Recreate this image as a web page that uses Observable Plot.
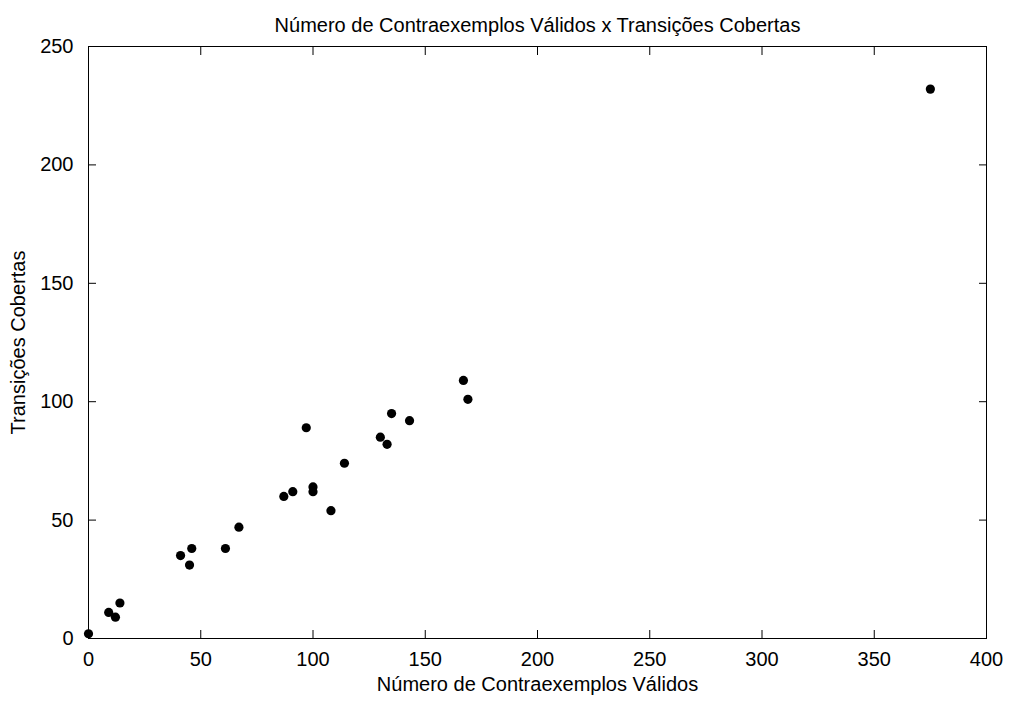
<!DOCTYPE html>
<html>
<head>
<meta charset="utf-8">
<script src="https://cdn.jsdelivr.net/npm/d3@7"></script>
<script src="https://cdn.jsdelivr.net/npm/@observablehq/plot@0.6"></script>
<style>
  html, body { margin: 0; padding: 0; background: #fff; }
</style>
</head>
<body>
<div id="chart"></div>
<script>
const titleText = "Número de Contraexemplos Válidos x Transições Cobertas";
const xLabel = "Número de Contraexemplos Válidos";
const yLabel = "Transições Cobertas";

const contraexemplos = [0, 9, 12, 14, 41, 46, 45, 61, 67, 87, 91, 100, 100, 97, 108, 114, 130, 133, 135, 143, 167, 169, 375];
const transicoes    = [2, 11, 9, 15, 35, 38, 31, 38, 47, 60, 62, 64, 62, 89, 54, 74, 85, 82, 95, 92, 109, 101, 232];

const xTicks = [0, 50, 100, 150, 200, 250, 300, 350, 400];
const yTicks = [0, 50, 100, 150, 200, 250];

const data = contraexemplos.map((x, i) => ({x, y: transicoes[i]}));

const fs = 20;
const blank = () => "";

const chart = Plot.plot({
  width: 1011,
  height: 703,
  marginLeft: 88,
  marginRight: 25,
  marginTop: 46,
  marginBottom: 65,
  style: {fontFamily: "'Liberation Sans', Arial, sans-serif", fontSize: fs + "px", color: "#000", background: "#fff"},
  x: {domain: [0, 400]},
  y: {domain: [0, 250]},
  marks: [
    Plot.frame({stroke: "#000", strokeWidth: 1}),
    // inward ticks on all four sides
    Plot.axisX(xTicks, {anchor: "bottom", tickSize: 8, dy: -8, tickFormat: blank, label: null, stroke: "#000"}),
    Plot.axisX(xTicks, {anchor: "top", tickSize: 8, dy: 8, tickFormat: blank, label: null, stroke: "#000"}),
    Plot.axisY(yTicks, {anchor: "left", tickSize: 8, dx: 8, tickFormat: blank, label: null, stroke: "#000"}),
    Plot.axisY(yTicks, {anchor: "right", tickSize: 8, dx: -8, tickFormat: blank, label: null, stroke: "#000"}),
    // tick labels
    Plot.axisX(xTicks, {anchor: "bottom", tickSize: 0, tickPadding: 13, label: null, fontSize: fs, fill: "#000"}),
    Plot.axisY(yTicks, {anchor: "left", tickSize: 0, tickPadding: 15, label: null, fontSize: fs, fill: "#000"}),
    Plot.dot(data, {x: "x", y: "y", r: 4.6, fill: "#000", stroke: null}),
    Plot.text([titleText], {frameAnchor: "top", dy: -29, fontSize: fs, fill: "#000", text: d => d}),
    Plot.text([xLabel], {frameAnchor: "bottom", dy: 52, fontSize: fs, fill: "#000", text: d => d}),
    Plot.text([yLabel], {frameAnchor: "left", textAnchor: "middle", dx: -70, rotate: -90, fontSize: fs, fill: "#000", text: d => d})
  ]
});
document.getElementById("chart").appendChild(chart);
</script>
</body>
</html>
